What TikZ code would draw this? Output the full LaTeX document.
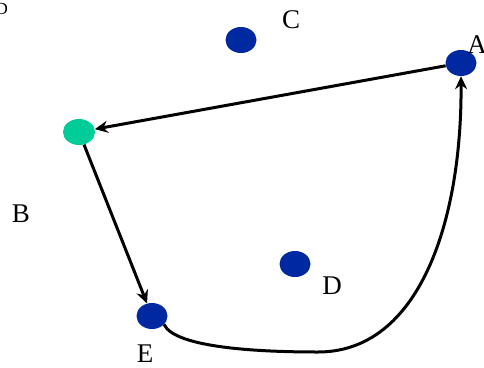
\documentclass[tikz,border=0pt]{standalone}
\usepackage{fontspec}
\setmainfont{Liberation Serif}
\usetikzlibrary{arrows.meta,shapes.geometric}
\definecolor{nodeblue}{RGB}{0,40,160}
\definecolor{nodegreen}{RGB}{0,204,153}
\begin{document}
\begin{tikzpicture}[x=1pt,y=-1pt,
  dot/.style={ellipse,fill=nodeblue,draw=none,minimum width=31pt,minimum height=26pt,inner sep=0pt},
  gdot/.style={dot,fill=nodegreen,minimum width=32pt},
  lbl/.style={font=\fontsize{27}{27}\selectfont,inner sep=0pt},
  conn/.style={line width=3pt,-{Stealth[length=13pt,width=12pt]}}]
\useasboundingbox (0,0) rectangle (484,367);
\clip (0,0) rectangle (484,367);
\node[dot] (C) at (241,40) {};
\node[dot] (A) at (461,63) {};
\node[gdot] (B) at (79,132) {};
\node[dot] (D) at (295,264) {};
\node[dot] (E) at (152,316) {};
\node[lbl] (lC) at (291,20) {C};
\node[lbl] (lA) at (477,45) {A};
\node[lbl] (lB) at (21,214) {B};
\node[lbl] (lD) at (332,286) {D};
\node[lbl] (lE) at (145,354) {E};
\node[font=\fontsize{17}{17}\selectfont,inner sep=0pt,anchor=east] (lX) at (8,9) {D};
\draw[conn] (A) -- (B);
\draw[conn] (B) -- (E);
\draw[conn] (E.-35) .. controls (175,348) and (260,352) .. (318,352)
  .. controls (420,352) and (462,220) .. (A.south);
\end{tikzpicture}
\end{document}
